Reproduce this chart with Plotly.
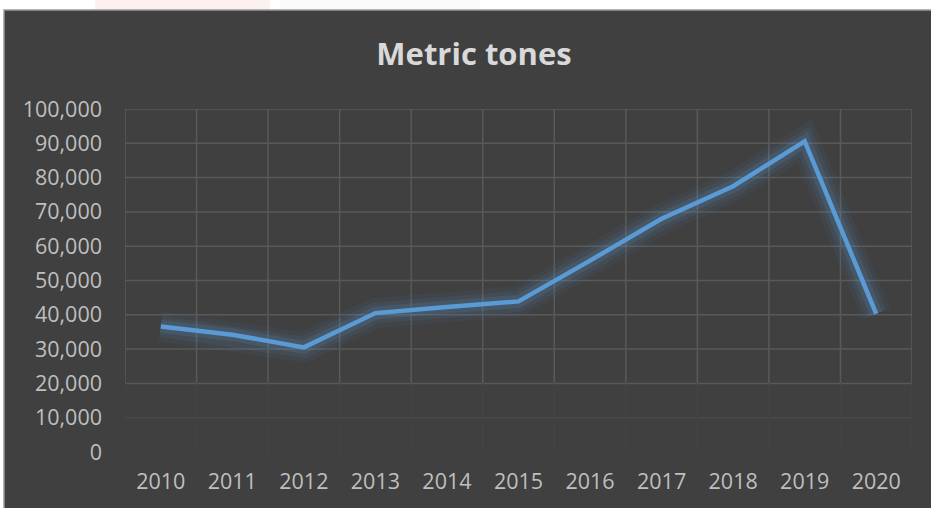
import plotly.graph_objects as go

years = ["2010", "2011", "2012", "2013", "2014", "2015", "2016", "2017", "2018", "2019", "2020"]
tonnes = [36600, 34200, 30500, 40500, 42300, 43900, 55800, 68000, 77500, 90600, 40300]
y_ticks = [0, 10000, 20000, 30000, 40000, 50000, 60000, 70000, 80000, 90000, 100000]

W, H = 931, 508
L, R, T, B = 125, 19, 109, 56
pw, ph = W - L - R, H - T - B

def px(x):
    return (x - L) / pw

def py(y):
    return (H - B - y) / ph

fig = go.Figure()
# glow layers
for w, a in [(30, 0.06), (21, 0.09), (13, 0.14)]:
    fig.add_trace(go.Scatter(x=years, y=tonnes, mode="lines",
                             line=dict(color=f"rgba(91,155,213,{a})", width=w),
                             hoverinfo="skip", showlegend=False))
fig.add_trace(go.Scatter(x=years, y=tonnes, mode="lines",
                         line=dict(color="#5b9bd5", width=4.5), showlegend=False))

shapes = [
    dict(type="rect", xref="paper", yref="paper", x0=px(4), x1=px(W + 5), y0=py(H + 5), y1=py(10),
         fillcolor="#404040", line=dict(color="#9a9a9a", width=1.5), layer="below"),
    dict(type="rect", xref="paper", yref="paper", x0=px(95), x1=px(270), y0=py(10), y1=py(-2),
         fillcolor="rgba(230,120,120,0.10)", line=dict(width=0), layer="below"),
    dict(type="rect", xref="paper", yref="paper", x0=px(280), x1=px(480), y0=py(10), y1=py(-2),
         fillcolor="rgba(200,200,200,0.08)", line=dict(width=0), layer="below"),
]

grid = "#595959"
faint = "#4a4a4a"
fainter = "#444444"
# horizontal gridlines (fading toward the bottom as in the reference)
for v in y_ticks:
    if v == 0:
        continue
    c = grid if v >= 20000 else faint
    shapes.append(dict(type="line", xref="paper", yref="y", x0=0, x1=1, y0=v, y1=v,
                       line=dict(color=c, width=1.5), layer="below"))
# vertical category-boundary gridlines
for i in range(len(years) + 1):
    shapes.append(dict(type="line", xref="x", yref="y", x0=i - 0.5, x1=i - 0.5, y0=20000, y1=100000,
                       line=dict(color=grid, width=1.5), layer="below"))
    shapes.append(dict(type="line", xref="x", yref="y", x0=i - 0.5, x1=i - 0.5, y0=0, y1=20000,
                       line=dict(color=fainter, width=1.5), layer="below"))

fig.update_layout(
    width=W, height=H,
    margin=dict(l=L, r=R, t=T, b=B),
    paper_bgcolor="white",
    plot_bgcolor="rgba(0,0,0,0)",
    shapes=shapes,
    title=dict(text="<b>Metric tones</b>", x=px(474), xref="paper", xanchor="center",
               y=1 - 54 / H, yanchor="middle",
               font=dict(family="Open Sans", size=31, color="#d9d9d9")),
    font=dict(family="Open Sans", size=21.5, color="#bfbfbf"),
    xaxis=dict(type="category", categoryorder="array", categoryarray=years,
               range=[-0.5, len(years) - 0.5],
               showgrid=False, zeroline=False, showline=False,
               ticks="", ticklabelstandoff=14,
               tickfont=dict(family="Open Sans", size=21.5, color="#bfbfbf")),
    yaxis=dict(range=[0, 100000], tickvals=y_ticks,
               ticktext=[f"{v:,}" for v in y_ticks],
               showgrid=False, zeroline=False, showline=False, ticks="", ticklabelstandoff=22,
               tickfont=dict(family="Open Sans", size=21.5, color="#bfbfbf")),
)

fig.write_html("out.html")
